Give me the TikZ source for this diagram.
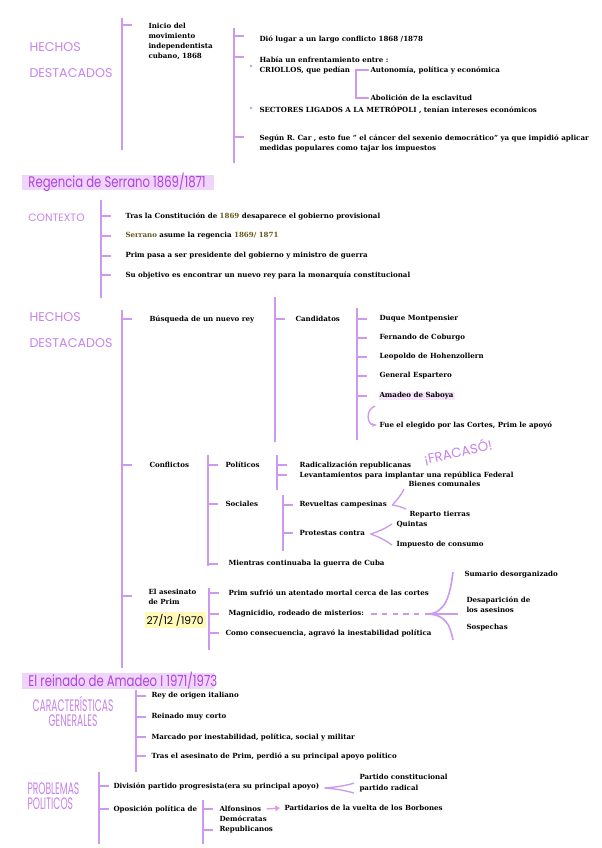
\documentclass[tikz,border=0pt]{standalone}
\usepackage{fontspec}
\setmainfont{DejaVu Serif}
\newfontfamily\headfont[FakeStretch=0.76]{Poppins}
\newfontfamily\handfont{Poppins}
\newfontfamily\narrowfont[FakeStretch=0.55]{Poppins}
\usetikzlibrary{calc,arrows.meta}

\definecolor{lila}{RGB}{204,153,238}
\definecolor{lilahead}{RGB}{200,130,235}
\definecolor{morado}{RGB}{172,68,222}
\definecolor{lilahl}{RGB}{240,212,250}
\definecolor{amarillo}{RGB}{255,250,185}
\definecolor{oliva}{RGB}{100,88,28}
\definecolor{rosa}{RGB}{228,150,225}

\newcommand\brtick[2]{\draw[br] (#1 |- #2) -- ++(10,0);}
\newcommand\hlt[1]{\textcolor{oliva}{#1}}

\tikzset{every picture/.style={line width=0.75pt}}
\tikzset{
  txt/.style={anchor=west, inner sep=0.75pt, font=\fontsize{5.3}{7.5}\selectfont\bfseries},
  br/.style={draw=lila, line width=1.2pt},
  seccion/.style={anchor=west, inner sep=0.75pt, text=morado, font=\headfont\fontsize{11.5}{13}\selectfont},
  bloque/.style={anchor=west, inner sep=0.75pt, text=lilahead, align=left, font=\handfont\fontsize{9.5}{19}\selectfont},
  estrecho/.style={inner sep=0.75pt, text=lilahead, font=\narrowfont\fontsize{12.5}{11}\selectfont},
}

\begin{document}
\begin{tikzpicture}[x=0.75pt,y=0.75pt,yscale=-1,xscale=1]
\fill[white] (0,0) rectangle (601,848);
\useasboundingbox (0,0) rectangle (601,848);

%% Cuba
\node[bloque] (hechosA) at (28,60) {HECHOS\\DESTACADOS};
\coordinate (c1) at (122,0);
\draw[br] (122,18) -- (122,150);
\node[txt, anchor=north west, align=left] (inicio) at (147,22) {Inicio del\\movimiento\\independentista\\cubano, 1868};
\draw[br] (c1 |- inicio.north) ++(0,3) -- ++(10,0);

\coordinate (c2) at (234,0);
\draw[br] (234,28) -- (234,163);
\node[txt] (dio) at (258,39) {Dió lugar a un largo conflicto 1868 /1878};
\node[txt] (habia) at (258,60) {Había un enfrentamiento entre :};
\node[txt] (criollos) at (258,70) {CRIOLLOS, que pedían};
\node[txt] (autonomia) at (369,70) {Autonomía, política y económica};
\node[txt] (abolicion) at (369,98) {Abolición de la esclavitud};
\node[txt] (sectores) at (258,110) {SECTORES LIGADOS A LA METRÓPOLI , tenían intereses económicos};
\node[txt, anchor=north west, align=left] (segun) at (258,133) {Según R. Car , esto fue " el cáncer del sexenio democrático" ya que impidió aplicar\\medidas populares como tajar los impuestos};
\draw[br] (c2 |- dio) ++(0,-3) -- ++(10,0);
\draw[br] (c2 |- habia) ++(0,-3) -- ++(10,0);
\draw[br] (c2 |- segun.north) ++(0,4) -- ++(10,0);
\coordinate (c3) at (356,0);
\draw[br] (autonomia.west) -| (c3 |- abolicion) -- (abolicion.west);
\fill[lila] ($(criollos.west)+(-7,-4)$) circle (1.4);
\fill[lila] ($(sectores.west)+(-7,-2)$) circle (1.4);

%% Regencia de Serrano
\fill[lilahl] (22,175) rectangle (214,190);
\node[seccion] (regencia) at (27,182) {Regencia de Serrano 1869/1871};
\node[anchor=west, inner sep=0.75pt, text=lilahead, font=\handfont\fontsize{8}{8}\selectfont] (contexto) at (27,218) {CONTEXTO};
\coordinate (c4) at (101,0);
\draw[br] (101,200) -- (101,298);
\node[txt] (tras) at (124,216) {Tras la Constitución de \hlt{1869} desaparece el gobierno provisional};
\node[txt] (asume) at (124,236) {\hlt{Serrano} asume la regencia \hlt{1869/ 1871}};
\node[txt] (primpasa) at (124,256) {Prim pasa a ser presidente del gobierno y ministro de guerra};
\node[txt] (objetivo) at (124,275) {Su objetivo es encontrar un nuevo rey para la monarquía constitucional};
\brtick{c4}{tras}
\brtick{c4}{asume}
\brtick{c4}{primpasa}
\brtick{c4}{objetivo}

%% hechos destacados (regencia)
\node[bloque] (hechosB) at (28,330) {HECHOS\\DESTACADOS};
\coordinate (c5) at (122,0);
\draw[br] (122,310) -- (122,668);
\node[txt] (busqueda) at (148,319) {Búsqueda de un nuevo rey};
\brtick{c5}{busqueda}

\coordinate (c6) at (275,0);
\draw[br] (275,297) -- (275,442);
\node[txt] (candidatos) at (294,319) {Candidatos};
\brtick{c6}{candidatos}

\coordinate (c7) at (357,0);
\draw[br] (357,308) -- (357,440);
\node[txt] (duque) at (378,319) {Duque Montpensier};
\node[txt] (fernando) at (378,338) {Fernando de Coburgo};
\node[txt] (leopoldo) at (378,357) {Leopoldo de Hohenzollern};
\node[txt] (espartero) at (378,376) {General Espartero};
\node[txt, fill=lilahl!60] (saboya) at (378,396) {Amadeo de Saboya};
\node[txt] (elegido) at (378,425) {Fue el elegido por las Cortes, Prim le apoyó};
\foreach \n in {duque,fernando,leopoldo,espartero,saboya}
  \brtick{c7}{\n};
\draw[lila, line width=1pt, -{Stealth[length=4pt]}] ($(saboya.south west)+(-3,5)$) .. controls +(-10,4) and +(-10,0) .. ($(elegido.west)+(-1,0)$);
\node[rotate=12, inner sep=0.75pt, text=lilahead, font=\handfont\fontsize{10}{10}\selectfont] (fracaso) at (458,452) {¡FRACASÓ!};

\node[txt] (conflictos) at (148,465) {Conflictos};
\brtick{c5}{conflictos}
\coordinate (c8) at (208,0);
\draw[br] (208,455) -- (208,566);
\node[txt] (politicos) at (224,465) {Políticos};
\node[txt] (sociales) at (224,504) {Sociales};
\node[txt] (mientras) at (227,564) {Mientras continuaba la guerra de Cuba};
\brtick{c8}{politicos}
\brtick{c8}{sociales}
\brtick{c8}{mientras}

\coordinate (c9) at (277,0);
\draw[br] (277,455) -- (277,490);
\node[txt] (radical) at (298,465) {Radicalización republicanas};
\node[txt] (levant) at (298,475) {Levantamientos para implantar una república Federal};
\brtick{c9}{radical}
\brtick{c9}{levant}

\coordinate (c10) at (283,0);
\draw[br] (283,495) -- (283,551);
\node[txt] (revueltas) at (298,505) {Revueltas campesinas};
\node[txt] (protestas) at (298,533) {Protestas contra};
\brtick{c10}{revueltas}
\brtick{c10}{protestas}
\node[txt] (bienes) at (407,484) {Bienes comunales};
\node[txt] (reparto) at (408,515) {Reparto tierras};
\node[txt] (quintas) at (395,524) {Quintas};
\node[txt] (impuesto) at (395,545) {Impuesto de consumo};
\draw[br, line width=1pt] ($(revueltas.east)+(4,0)$) to[bend left=8] ($(bienes.south west)+(-3,1)$);
\draw[br, line width=1pt] ($(revueltas.east)+(4,0)$) to[bend right=8] ($(reparto.north west)+(-2,-1)$);
\draw[br, line width=1pt] ($(protestas.east)+(4,1)$) to[bend left=8] ($(quintas.west)+(-3,0)$);
\draw[br, line width=1pt] ($(protestas.east)+(4,1)$) to[bend right=8] ($(impuesto.west)+(-3,0)$);

\node[txt, anchor=north west, align=left] (asesinato) at (147,588) {El asesinato\\de Prim};
\draw[br] (c5 |- asesinato.north) ++(0,8) -- ++(10,0);
\node[anchor=west, fill=amarillo, inner sep=1.5pt, font=\handfont\fontsize{8}{8}\selectfont] (fecha) at (144,620) {27/12 /1970};
\coordinate (c11) at (209,0);
\draw[br] (209,588) -- (209,650);
\node[txt] (atentado) at (227,593) {Prim sufrió un atentado mortal cerca de las cortes};
\node[txt] (magni) at (227,614) {Magnicidio, rodeado de misterios:};
\node[txt] (consec) at (224,633) {Como consecuencia, agravó la inestabilidad política};
\brtick{c11}{atentado}
\brtick{c11}{magni}
\brtick{c11}{consec}
\node[txt] (sumario) at (463,575) {Sumario desorganizado};
\node[txt, align=left] (desap) at (465,605) {Desaparición de\\los asesinos};
\node[txt] (sospechas) at (465,628) {Sospechas};
\coordinate (llave) at (428,614);
\draw[br, line width=1pt, dash pattern={on 4pt off 4pt}] ($(magni.east)+(6,0)$) -- (llave);
\draw[br] (llave) .. controls (446,613) and (450,595) .. ($(sumario.west)+(-10,-3)$);
\draw[br] (llave) .. controls (446,615) and (450,625) .. ($(sospechas.west)+(-12,12)$);
\draw[br] (llave) -- ($(desap.west)+(-7,9)$);

%% El reinado de Amadeo I
\fill[lilahl] (22,673) rectangle (214,689);
\node[seccion] (reinado) at (27,681) {El reinado de Amadeo I 1971/1973};
\node[estrecho, align=center, anchor=north] (caract) at (73,695) {CARACTERÍSTICAS\\GENERALES};
\coordinate (c12) at (136,0);
\draw[br] (136,690) -- (136,772);
\node[txt] (rey) at (150,696) {Rey de origen italiano};
\node[txt] (corto) at (150,717) {Reinado muy corto};
\node[txt] (marcado) at (150,737) {Marcado por inestabilidad, política, social y militar};
\node[txt] (perdio) at (150,756) {Tras el asesinato de Prim, perdió a su principal apoyo político};
\foreach \n in {rey,corto,marcado,perdio}
  \brtick{c12}{\n};

\node[estrecho, align=left, anchor=west] (problemas) at (26,796) {PROBLEMAS\\POLITICOS};
\coordinate (c13) at (99,0);
\draw[br] (99,772) -- (99,844);
\node[txt] (division) at (112,786) {División partido progresista(era su principal apoyo)};
\node[txt] (oposicion) at (112,809) {Oposición política de};
\brtick{c13}{division}
\brtick{c13}{oposicion}
\node[txt] (constit) at (358,777) {Partido constitucional};
\node[txt] (pradical) at (358,789) {partido radical};
\draw[br, line width=1pt] ($(division.east)+(4,2)$) to[bend left=5] ($(constit.south west)+(-4,2)$);
\draw[br, line width=1pt] ($(division.east)+(4,2)$) to[bend right=5] ($(pradical.west)+(-4,4)$);

\coordinate (c14) at (203,0);
\draw[br] (203,800) -- (203,844);
\node[txt] (alfonsinos) at (218,809) {Alfonsinos};
\node[txt] (democratas) at (218,819) {Demócratas};
\node[txt] (republicanos) at (218,830) {Republicanos};
\brtick{c14}{alfonsinos}
\brtick{c14}{republicanos}
\node[txt] (partidarios) at (283,808) {Partidarios de la vuelta de los Borbones};
\draw[rosa, line width=1pt, -{Triangle[length=3.5pt,width=4pt]}] ($(alfonsinos.east)+(4,0)$) -- ($(partidarios.west)+(-3,0)$);
\end{tikzpicture}
\end{document}
